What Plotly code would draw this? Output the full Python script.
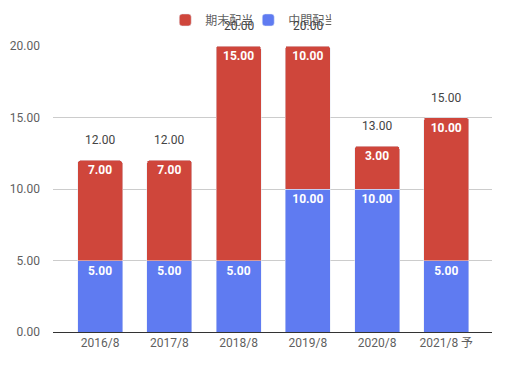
import plotly.graph_objects as go

categories = ["2016/8", "2017/8", "2018/8", "2019/8", "2020/8", "2021/8 予"]
interim = [5, 5, 5, 10, 10, 5]       # 中間配当
year_end = [7, 7, 15, 10, 3, 10]     # 期末配当
totals = [a + b for a, b in zip(interim, year_end)]

RED = "#cf463b"
BLUE = "#5f7bf1"
FONT = "Roboto, Noto Sans CJK JP, sans-serif"

fig = go.Figure()
fig.add_trace(go.Bar(
    x=categories, y=interim, name="中間配当", marker_color=BLUE,
    text=[f"{v:.2f}" for v in interim], textposition="inside",
    insidetextanchor="end", textangle=0, constraintext="none",
    textfont=dict(color="white", size=12, family=FONT, weight="bold"),
    hoverinfo="skip",
))
fig.add_trace(go.Bar(
    x=categories, y=year_end, name="期末配当", marker_color=RED,
    text=[f"{v:.2f}" for v in year_end], textposition="inside",
    insidetextanchor="end", textangle=0, constraintext="none",
    textfont=dict(color="white", size=12, family=FONT, weight="bold"),
    hoverinfo="skip",
))

for c, t in zip(categories, totals):
    fig.add_annotation(x=c, y=t, text=f"{t:.2f}", showarrow=False,
                       yanchor="bottom", yshift=11,
                       font=dict(size=12, color="#444444", family=FONT))

fig.update_layout(
    width=509, height=368,
    barmode="stack", bargap=0.35, barcornerradius=3,
    margin=dict(l=45, r=25, t=38, b=44, autoexpand=False),
    paper_bgcolor="white", plot_bgcolor="white",
    font=dict(family=FONT, size=12, color="#5f5f5f"),
    legend=dict(orientation="h", xref="container", x=0.472, xanchor="center",
                y=1.091, yanchor="middle", traceorder="reversed",
                entrywidth=38, entrywidthmode="pixels",
                font=dict(size=12, color="#5f5f5f"), itemclick=False),
    xaxis=dict(range=[-0.68, 5.66], showgrid=False, showline=True, linecolor="#333333",
               linewidth=1, ticks="", tickfont=dict(size=12, color="#5f5f5f")),
    yaxis=dict(range=[0, 20], tickvals=[0, 5, 10, 15, 20], tickformat=".2f",
               showgrid=True, gridcolor="#cccccc", zeroline=False, ticks="",
               ticklabelstandoff=12, tickfont=dict(size=12, color="#5f5f5f")),
)

fig.write_html("out.html")
